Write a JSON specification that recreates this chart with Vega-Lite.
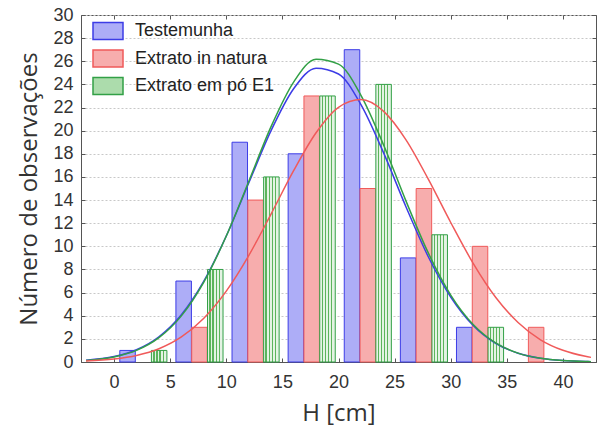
{
  "$schema": "https://vega.github.io/schema/vega-lite/v6.json",
  "autosize": {"type": "none"},
  "width": 515,
  "height": 347,
  "padding": {"left": 81, "top": 15, "right": 2, "bottom": 72},
  "config": {
    "view": {"stroke": "#555", "strokeWidth": 1},
    "axis": {"labelFont": "Liberation Sans", "labelFontSize": 18, "labelColor": "#333", "titleFont": "Open Sans", "titleFontSize": 24, "titleFontWeight": "normal", "titleColor": "#333", "domainColor": "#555", "tickColor": "#555"}
  },
  "datasets": {
    "barras": [
      {"bin": 0, "serie": "Testemunha", "n": 1},
      {"bin": 5, "serie": "Testemunha", "n": 7},
      {"bin": 10, "serie": "Testemunha", "n": 19},
      {"bin": 15, "serie": "Testemunha", "n": 18},
      {"bin": 20, "serie": "Testemunha", "n": 27},
      {"bin": 25, "serie": "Testemunha", "n": 9},
      {"bin": 30, "serie": "Testemunha", "n": 3},
      {"bin": 5, "serie": "Extrato in natura", "n": 3},
      {"bin": 10, "serie": "Extrato in natura", "n": 14},
      {"bin": 15, "serie": "Extrato in natura", "n": 23},
      {"bin": 20, "serie": "Extrato in natura", "n": 15},
      {"bin": 25, "serie": "Extrato in natura", "n": 15},
      {"bin": 30, "serie": "Extrato in natura", "n": 10},
      {"bin": 35, "serie": "Extrato in natura", "n": 3},
      {"bin": 0, "serie": "Extrato em pó E1", "n": 1},
      {"bin": 5, "serie": "Extrato em pó E1", "n": 8},
      {"bin": 10, "serie": "Extrato em pó E1", "n": 16},
      {"bin": 15, "serie": "Extrato em pó E1", "n": 23},
      {"bin": 20, "serie": "Extrato em pó E1", "n": 24},
      {"bin": 25, "serie": "Extrato em pó E1", "n": 11},
      {"bin": 30, "serie": "Extrato em pó E1", "n": 3}
    ],
    "curvas": [
      {"H": -2.5, "serie": "Testemunha", "f": 0.15},
      {"H": 0, "serie": "Testemunha", "f": 0.47},
      {"H": 2, "serie": "Testemunha", "f": 1.06},
      {"H": 4, "serie": "Testemunha", "f": 2.18},
      {"H": 6, "serie": "Testemunha", "f": 4.09},
      {"H": 8, "serie": "Testemunha", "f": 6.99},
      {"H": 10, "serie": "Testemunha", "f": 10.89},
      {"H": 12, "serie": "Testemunha", "f": 15.47},
      {"H": 14, "serie": "Testemunha", "f": 20.02},
      {"H": 16, "serie": "Testemunha", "f": 23.62},
      {"H": 18, "serie": "Testemunha", "f": 25.4},
      {"H": 20, "serie": "Testemunha", "f": 24.9},
      {"H": 22, "serie": "Testemunha", "f": 22.25},
      {"H": 24, "serie": "Testemunha", "f": 18.12},
      {"H": 26, "serie": "Testemunha", "f": 13.45},
      {"H": 28, "serie": "Testemunha", "f": 9.1},
      {"H": 30, "serie": "Testemunha", "f": 5.62},
      {"H": 32, "serie": "Testemunha", "f": 3.16},
      {"H": 34, "serie": "Testemunha", "f": 1.62},
      {"H": 36, "serie": "Testemunha", "f": 0.76},
      {"H": 38, "serie": "Testemunha", "f": 0.32},
      {"H": 40, "serie": "Testemunha", "f": 0.12},
      {"H": 42, "serie": "Testemunha", "f": 0.04},
      {"H": 42.5, "serie": "Testemunha", "f": 0.03},
      {"H": -2.5, "serie": "Extrato em pó E1", "f": 0.14},
      {"H": 0, "serie": "Extrato em pó E1", "f": 0.44},
      {"H": 2, "serie": "Extrato em pó E1", "f": 1.0},
      {"H": 4, "serie": "Extrato em pó E1", "f": 2.1},
      {"H": 6, "serie": "Extrato em pó E1", "f": 3.99},
      {"H": 8, "serie": "Extrato em pó E1", "f": 6.91},
      {"H": 10, "serie": "Extrato em pó E1", "f": 10.89},
      {"H": 12, "serie": "Extrato em pó E1", "f": 15.61},
      {"H": 14, "serie": "Extrato em pó E1", "f": 20.37},
      {"H": 16, "serie": "Extrato em pó E1", "f": 24.2},
      {"H": 18, "serie": "Extrato em pó E1", "f": 26.17},
      {"H": 20, "serie": "Extrato em pó E1", "f": 25.75},
      {"H": 22, "serie": "Extrato em pó E1", "f": 23.06},
      {"H": 24, "serie": "Extrato em pó E1", "f": 18.81},
      {"H": 26, "serie": "Extrato em pó E1", "f": 13.95},
      {"H": 28, "serie": "Extrato em pó E1", "f": 9.43},
      {"H": 30, "serie": "Extrato em pó E1", "f": 5.79},
      {"H": 32, "serie": "Extrato em pó E1", "f": 3.24},
      {"H": 34, "serie": "Extrato em pó E1", "f": 1.65},
      {"H": 36, "serie": "Extrato em pó E1", "f": 0.77},
      {"H": 38, "serie": "Extrato em pó E1", "f": 0.32},
      {"H": 40, "serie": "Extrato em pó E1", "f": 0.12},
      {"H": 42, "serie": "Extrato em pó E1", "f": 0.045},
      {"H": 42.5, "serie": "Extrato em pó E1", "f": 0.03},
      {"H": -2.5, "serie": "Extrato in natura", "f": 0.09},
      {"H": 0, "serie": "Extrato in natura", "f": 0.26},
      {"H": 2, "serie": "Extrato in natura", "f": 0.57},
      {"H": 4, "serie": "Extrato in natura", "f": 1.15},
      {"H": 6, "serie": "Extrato in natura", "f": 2.17},
      {"H": 8, "serie": "Extrato in natura", "f": 3.79},
      {"H": 10, "serie": "Extrato in natura", "f": 6.13},
      {"H": 12, "serie": "Extrato in natura", "f": 9.2},
      {"H": 14, "serie": "Extrato in natura", "f": 12.81},
      {"H": 16, "serie": "Extrato in natura", "f": 16.54},
      {"H": 18, "serie": "Extrato in natura", "f": 19.82},
      {"H": 20, "serie": "Extrato in natura", "f": 22.02},
      {"H": 22, "serie": "Extrato in natura", "f": 22.69},
      {"H": 24, "serie": "Extrato in natura", "f": 21.69},
      {"H": 26, "serie": "Extrato in natura", "f": 19.23},
      {"H": 28, "serie": "Extrato in natura", "f": 15.81},
      {"H": 30, "serie": "Extrato in natura", "f": 12.06},
      {"H": 32, "serie": "Extrato in natura", "f": 8.53},
      {"H": 34, "serie": "Extrato in natura", "f": 5.6},
      {"H": 36, "serie": "Extrato in natura", "f": 3.41},
      {"H": 38, "serie": "Extrato in natura", "f": 1.92},
      {"H": 40, "serie": "Extrato in natura", "f": 1.01},
      {"H": 42, "serie": "Extrato in natura", "f": 0.49},
      {"H": 42.5, "serie": "Extrato in natura", "f": 0.4}
    ]
  },
  "resolve": {"axis": {"x": "independent", "y": "independent"}},
  "layer": [
    {
      "data": {"name": "barras"},
      "transform": [{"filter": "datum.serie === 'Testemunha'"}],
      "mark": {"type": "bar", "width": 15.5, "xOffset": 13.5, "strokeWidth": 1},
      "encoding": {
        "x": {"field": "bin", "type": "quantitative", "scale": {"domain": [-2.5, 42.5], "nice": false, "zero": false},
          "axis": {"values": [0, 5, 10, 15, 20, 25, 30, 35, 40], "title": "H [cm]", "grid": false, "tickSize": -4, "labelPadding": 15, "titlePadding": 10}},
        "y": {"field": "n", "type": "quantitative", "scale": {"domain": [0, 30], "nice": false},
          "axis": {"values": [0, 2, 4, 6, 8, 10, 12, 14, 16, 18, 20, 22, 24, 26, 28, 30], "title": "Número de observações", "grid": true, "gridColor": "#c8c8c8", "gridDash": [2, 2], "tickSize": -4, "labelPadding": 12, "titlePadding": 11}},
        "fill": {"field": "serie", "type": "nominal",
          "scale": {"domain": ["Testemunha", "Extrato in natura", "Extrato em pó E1"], "range": ["#adadf7", "#f7adad", "#acdcac"]},
          "legend": {"title": null, "orient": "none", "legendX": 16, "legendY": 5, "padding": 0, "symbolType": "M-1.5,-0.85H1.5V0.85H-1.5Z", "symbolSize": 400, "symbolStrokeWidth": 1.5, "symbolOpacity": 1, "rowPadding": 3.5, "labelOffset": 16, "labelFont": "Liberation Sans", "labelFontSize": 18, "labelColor": "#222", "labelLimit": 300}},
        "stroke": {"field": "serie", "type": "nominal",
          "scale": {"domain": ["Testemunha", "Extrato in natura", "Extrato em pó E1"], "range": ["#3c3ce6", "#f05a5a", "#32a046"]},
          "legend": {"title": null, "orient": "none", "legendX": 16, "legendY": 5, "padding": 0, "symbolType": "M-1.5,-0.85H1.5V0.85H-1.5Z", "symbolSize": 400, "symbolStrokeWidth": 1.5, "symbolOpacity": 1, "rowPadding": 3.5, "labelOffset": 16, "labelFont": "Liberation Sans", "labelFontSize": 18, "labelColor": "#222", "labelLimit": 300}}
      }
    },
    {
      "data": {"name": "barras"},
      "transform": [{"filter": "datum.serie === 'Extrato in natura'"}],
      "mark": {"type": "bar", "width": 15.5, "xOffset": 29.3, "strokeWidth": 1},
      "encoding": {
        "x": {"field": "bin", "type": "quantitative", "axis": null},
        "y": {"field": "n", "type": "quantitative", "axis": null},
        "fill": {"field": "serie", "type": "nominal"},
        "stroke": {"field": "serie", "type": "nominal"}
      }
    },
    {
      "data": {"name": "barras"},
      "transform": [{"filter": "datum.serie === 'Extrato em pó E1'"}],
      "mark": {"type": "bar", "width": 15.5, "xOffset": 45.1, "strokeWidth": 1,
        "fill": {"gradient": "linear", "x1": 0, "x2": 1, "y1": 0, "y2": 0, "stops": [
          {"offset": 0, "color": "#e4f3e4"}, {"offset": 0.12, "color": "#e4f3e4"}, {"offset": 0.12, "color": "#5cb45c"}, {"offset": 0.2, "color": "#5cb45c"},
          {"offset": 0.2, "color": "#e4f3e4"}, {"offset": 0.32, "color": "#e4f3e4"}, {"offset": 0.32, "color": "#5cb45c"}, {"offset": 0.4, "color": "#5cb45c"},
          {"offset": 0.4, "color": "#e4f3e4"}, {"offset": 0.52, "color": "#e4f3e4"}, {"offset": 0.52, "color": "#5cb45c"}, {"offset": 0.6, "color": "#5cb45c"},
          {"offset": 0.6, "color": "#e4f3e4"}, {"offset": 0.72, "color": "#e4f3e4"}, {"offset": 0.72, "color": "#5cb45c"}, {"offset": 0.8, "color": "#5cb45c"},
          {"offset": 0.8, "color": "#e4f3e4"}, {"offset": 0.92, "color": "#e4f3e4"}, {"offset": 0.92, "color": "#e4f3e4"}, {"offset": 1, "color": "#e4f3e4"}
        ]}},
      "encoding": {
        "x": {"field": "bin", "type": "quantitative", "axis": null},
        "y": {"field": "n", "type": "quantitative", "axis": null},
        "stroke": {"field": "serie", "type": "nominal"}
      }
    },
    {
      "data": {"name": "curvas"},
      "mark": {"type": "line", "interpolate": "monotone", "strokeWidth": 1.5, "clip": true},
      "encoding": {
        "x": {"field": "H", "type": "quantitative",
          "axis": {"orient": "top", "values": [0, 5, 10, 15, 20, 25, 30, 35, 40], "labels": false, "title": null, "grid": false, "domain": false, "tickSize": -4}},
        "y": {"field": "f", "type": "quantitative",
          "axis": {"orient": "right", "values": [0, 2, 4, 6, 8, 10, 12, 14, 16, 18, 20, 22, 24, 26, 28, 30], "labels": false, "title": null, "grid": false, "domain": false, "tickSize": -4}},
        "stroke": {"field": "serie", "type": "nominal", "legend": null},
        "detail": {"field": "serie", "type": "nominal"}
      }
    }
  ]
}
